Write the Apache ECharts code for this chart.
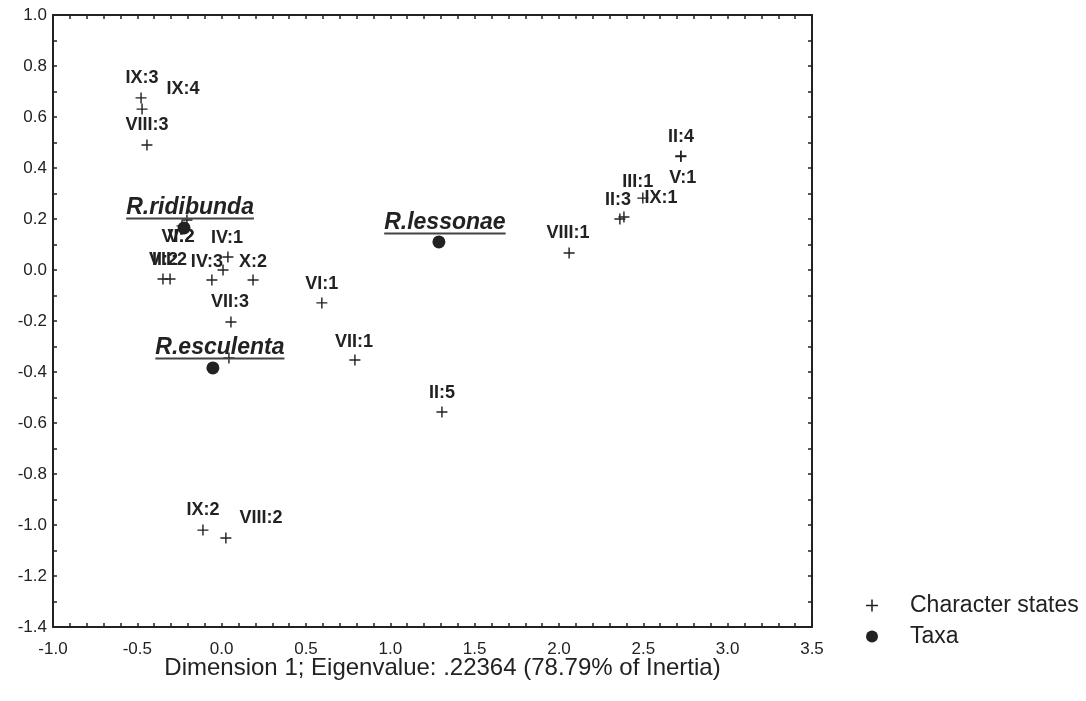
<!DOCTYPE html>
<html>
<head>
<meta charset="utf-8">
<script src="https://cdn.jsdelivr.net/npm/echarts@6/dist/echarts.min.js"></script>
<style>
html,body{margin:0;padding:0;background:#fff;}
#c{width:1086px;height:701px;}
</style>
</head>
<body>
<div id="c"></div>
<script>
// ---- data ----
var stateNames = ['IX:3','IX:4','VIII:3','VI:2','V:2','VII:2','II:2','IV:1','IV:2','IV:3','X:2','VII:3','III:2','VI:1','VII:1','II:5','VIII:1','II:3','IX:1','III:1','II:4','V:1','IX:2','VIII:2'];
var stateX = [-0.478,-0.472,-0.443,-0.206,-0.235,-0.348,-0.306,0.037,0.008,-0.058,0.186,0.055,0.043,0.594,0.790,1.306,2.060,2.361,2.385,2.497,2.723,2.722,-0.111,0.025];
var stateY = [0.675,0.631,0.490,0.196,0.173,-0.035,-0.035,0.051,0.000,-0.039,-0.039,-0.204,-0.345,-0.129,-0.353,-0.557,0.067,0.200,0.208,0.282,0.447,0.445,-1.020,-1.051];
var taxaNames = ['R.ridibunda','R.lessonae','R.esculenta'];
var taxaX = [-0.223,1.288,-0.052];
var taxaY = [0.165,0.110,-0.384];
var xTicks = [-1.0,-0.5,0.0,0.5,1.0,1.5,2.0,2.5,3.0,3.5];
var yTicks = [-1.4,-1.2,-1.0,-0.8,-0.6,-0.4,-0.2,0.0,0.2,0.4,0.6,0.8,1.0];

// ---- label placement (style) ----
var stateLabelOffset = [[1,-20],[41,-20],[0,-20],[-9,17],[-1,11],[5,-19],[-5,-19],[-1,-19],null,[-5,-18],[0,-18],[-1,-20],null,[0,-19],[-1,-18],[0,-19],[-1,-20],[-2,-19],[37,-19],[-5,-16],[0,-19],[2,22],[0,-20],[35,-20]];
var taxaLabelOffset = [[6,-19],[6,-18],[7,-19]];

var ink = '#222222';
var font = '"Liberation Sans", Arial, sans-serif';
var plusPath = 'path://M-0.13,-1H0.13V-0.13H1V0.13H0.13V1H-0.13V0.13H-1V-0.13H-0.13Z';

var stateData = stateNames.map(function(n,i){
  var off = stateLabelOffset[i];
  return {name:n, value:[stateX[i],stateY[i]], label: off ? {show:true, offset:off} : {show:false}};
});
var taxaData = taxaNames.map(function(n,i){
  return {name:n, value:[taxaX[i],taxaY[i]], label:{show:true, offset:taxaLabelOffset[i]}};
});

var chart = echarts.init(document.getElementById('c'), null, {renderer:'canvas'});
var axisCommon = {
  type:'value',
  axisLine:{show:true, onZero:false, lineStyle:{color:ink, width:2}},
  axisTick:{show:true, inside:true, length:4, lineStyle:{color:ink, width:1.5}},
  minorTick:{show:true, length:4, lineStyle:{color:ink, width:1.5}},
  splitLine:{show:false},
  minorSplitLine:{show:false}
};
var option = {
  backgroundColor:'#ffffff',
  animation:false,
  grid:{left:53, right:274, top:15, bottom:74, show:false},
  xAxis:[
    Object.assign({}, axisCommon, {
      position:'bottom', min:xTicks[0], max:xTicks[xTicks.length-1], interval:0.5,
      minorTick:Object.assign({}, axisCommon.minorTick, {splitNumber:5}),
      axisLabel:{color:ink, fontFamily:font, fontSize:17, margin:14, formatter:function(v){return v.toFixed(1);}},
      name:'Dimension 1; Eigenvalue: .22364 (78.79% of Inertia)',
      nameLocation:'middle', nameGap:29, nameMoveOverlap:false,
      nameTextStyle:{color:ink, fontFamily:font, fontSize:24, padding:[0,0,0,20]}
    }),
    Object.assign({}, axisCommon, {
      position:'top', min:xTicks[0], max:xTicks[xTicks.length-1], interval:0.5,
      minorTick:Object.assign({}, axisCommon.minorTick, {splitNumber:5}),
      axisLabel:{show:false}
    })
  ],
  yAxis:[
    Object.assign({}, axisCommon, {
      position:'left', min:yTicks[0], max:yTicks[yTicks.length-1], interval:0.2,
      minorTick:Object.assign({}, axisCommon.minorTick, {splitNumber:2}),
      axisLabel:{color:ink, fontFamily:font, fontSize:17, margin:6, formatter:function(v){return v.toFixed(1);}}
    }),
    Object.assign({}, axisCommon, {
      position:'right', min:yTicks[0], max:yTicks[yTicks.length-1], interval:0.2,
      minorTick:Object.assign({}, axisCommon.minorTick, {splitNumber:2}),
      axisLabel:{show:false}
    })
  ],
  legend:{
    orient:'vertical', left:861, top:589, itemWidth:12, itemHeight:12, itemGap:8,
    textStyle:{color:ink, fontFamily:font, fontSize:23, lineHeight:21, padding:[0,0,0,27]},
    data:[
      {name:'Character states', icon:plusPath, itemStyle:{color:ink}},
      {name:'Taxa', icon:'circle', itemStyle:{color:ink}}
    ]
  },
  series:[
    {
      name:'Character states', type:'scatter', symbol:plusPath, symbolSize:11,
      itemStyle:{color:ink, opacity:1},
      label:{position:'inside', formatter:'{b}', color:ink, fontFamily:font, fontWeight:'bold', fontSize:18},
      emphasis:{disabled:true},
      data:stateData, z:3
    },
    {
      name:'Taxa', type:'scatter', symbol:'circle', symbolSize:13,
      itemStyle:{color:ink, opacity:1},
      label:{
        position:'inside', color:ink,
        formatter:function(p){return '{a|'+p.name+'}\n{u|'+p.name+'}';},
        rich:{
          a:{fontFamily:font, fontWeight:'bold', fontStyle:'italic', fontSize:23, lineHeight:19, color:ink},
          u:{fontFamily:font, fontWeight:'bold', fontStyle:'italic', fontSize:23, height:2, lineHeight:2, color:'rgba(0,0,0,0)', backgroundColor:'#444444'}
        }
      },
      emphasis:{disabled:true},
      data:taxaData, z:4
    }
  ]
};
chart.setOption(option);
</script>
</body>
</html>
